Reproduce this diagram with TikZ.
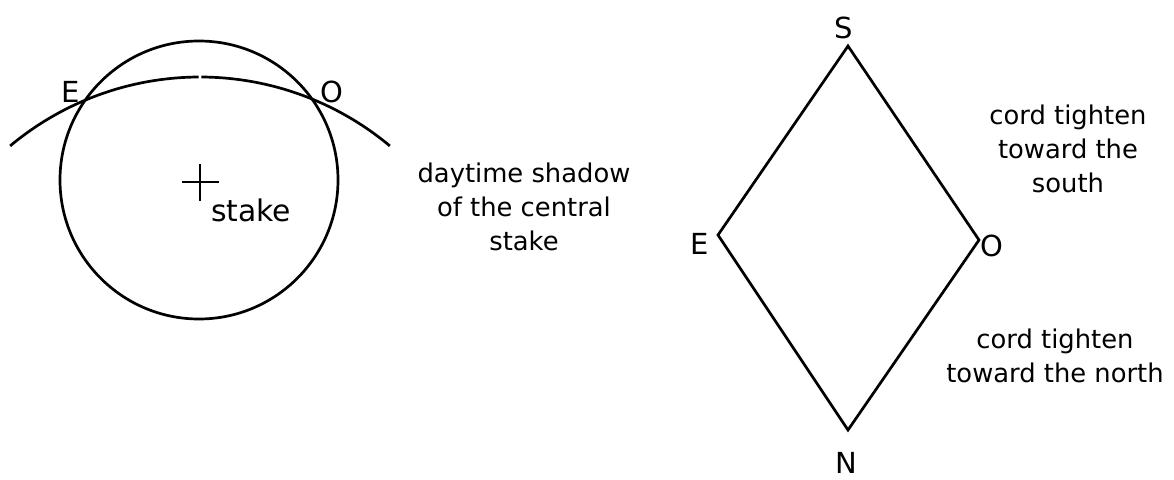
\documentclass[tikz,border=0pt]{standalone}
\usepackage{fontspec}
\setmainfont{DejaVu Sans}
\begin{document}
\begin{tikzpicture}[x=1pt,y=1pt,
  stroke/.style={line width=2.7pt, black},
  body/.style={inner sep=0pt, align=center, font=\fontsize{25.8}{34}\selectfont},
  lbl/.style={inner sep=0pt, font=\fontsize{29}{35}\selectfont}]
\useasboundingbox (0,0) rectangle (1174,-479);
% left figure: stake circle and shadow arc
\coordinate (cc) at (199,-180);
\coordinate (ac) at (200,-373);
\draw[stroke] (cc) circle[radius=139];
\draw[stroke] ([shift={(129.9:296)}]ac) arc[start angle=129.9, end angle=90.25, radius=296];
\draw[stroke] ([shift={(89.75:296)}]ac) arc[start angle=89.75, end angle=50.1, radius=296];
\coordinate (stk) at (200,-182);
\draw[line width=2.3pt] ([xshift=-18pt]stk) -- ([xshift=19pt]stk);
\draw[line width=2.3pt] ([yshift=18pt]stk) -- ([yshift=-19pt]stk);
\node[anchor=base west, inner sep=0pt, font=\fontsize{29.8}{36}\selectfont] (stakelbl) at (211,-221) {stake};
\node[lbl] (le) at (71,-92) {E};
\node[lbl] (lo) at (332,-92) {O};
% middle text (base anchor = baseline of last line)
\node[body, anchor=base] (shadow) at (524,-250) {daytime shadow\\of the central\\stake};
% diamond
\coordinate (S) at (848,-46);
\coordinate (E) at (718,-235);
\coordinate (N) at (848,-430);
\coordinate (O) at (979,-240);
\draw[stroke, line join=miter] (S) -- (O) -- (N) -- (E) -- cycle;
\node[lbl] (ls) at (843.5,-27.5) {S};
\node[lbl] (le2) at (700,-244) {E};
\node[lbl] (lo2) at (992,-246) {O};
\node[lbl] (ln) at (846,-463) {N};
% right texts
\node[body, anchor=base] (south) at (1068,-192) {cord tighten\\toward the\\south};
\node[body, anchor=base] (north) at (1055,-382) {cord tighten\\toward the north};
\end{tikzpicture}
\end{document}
